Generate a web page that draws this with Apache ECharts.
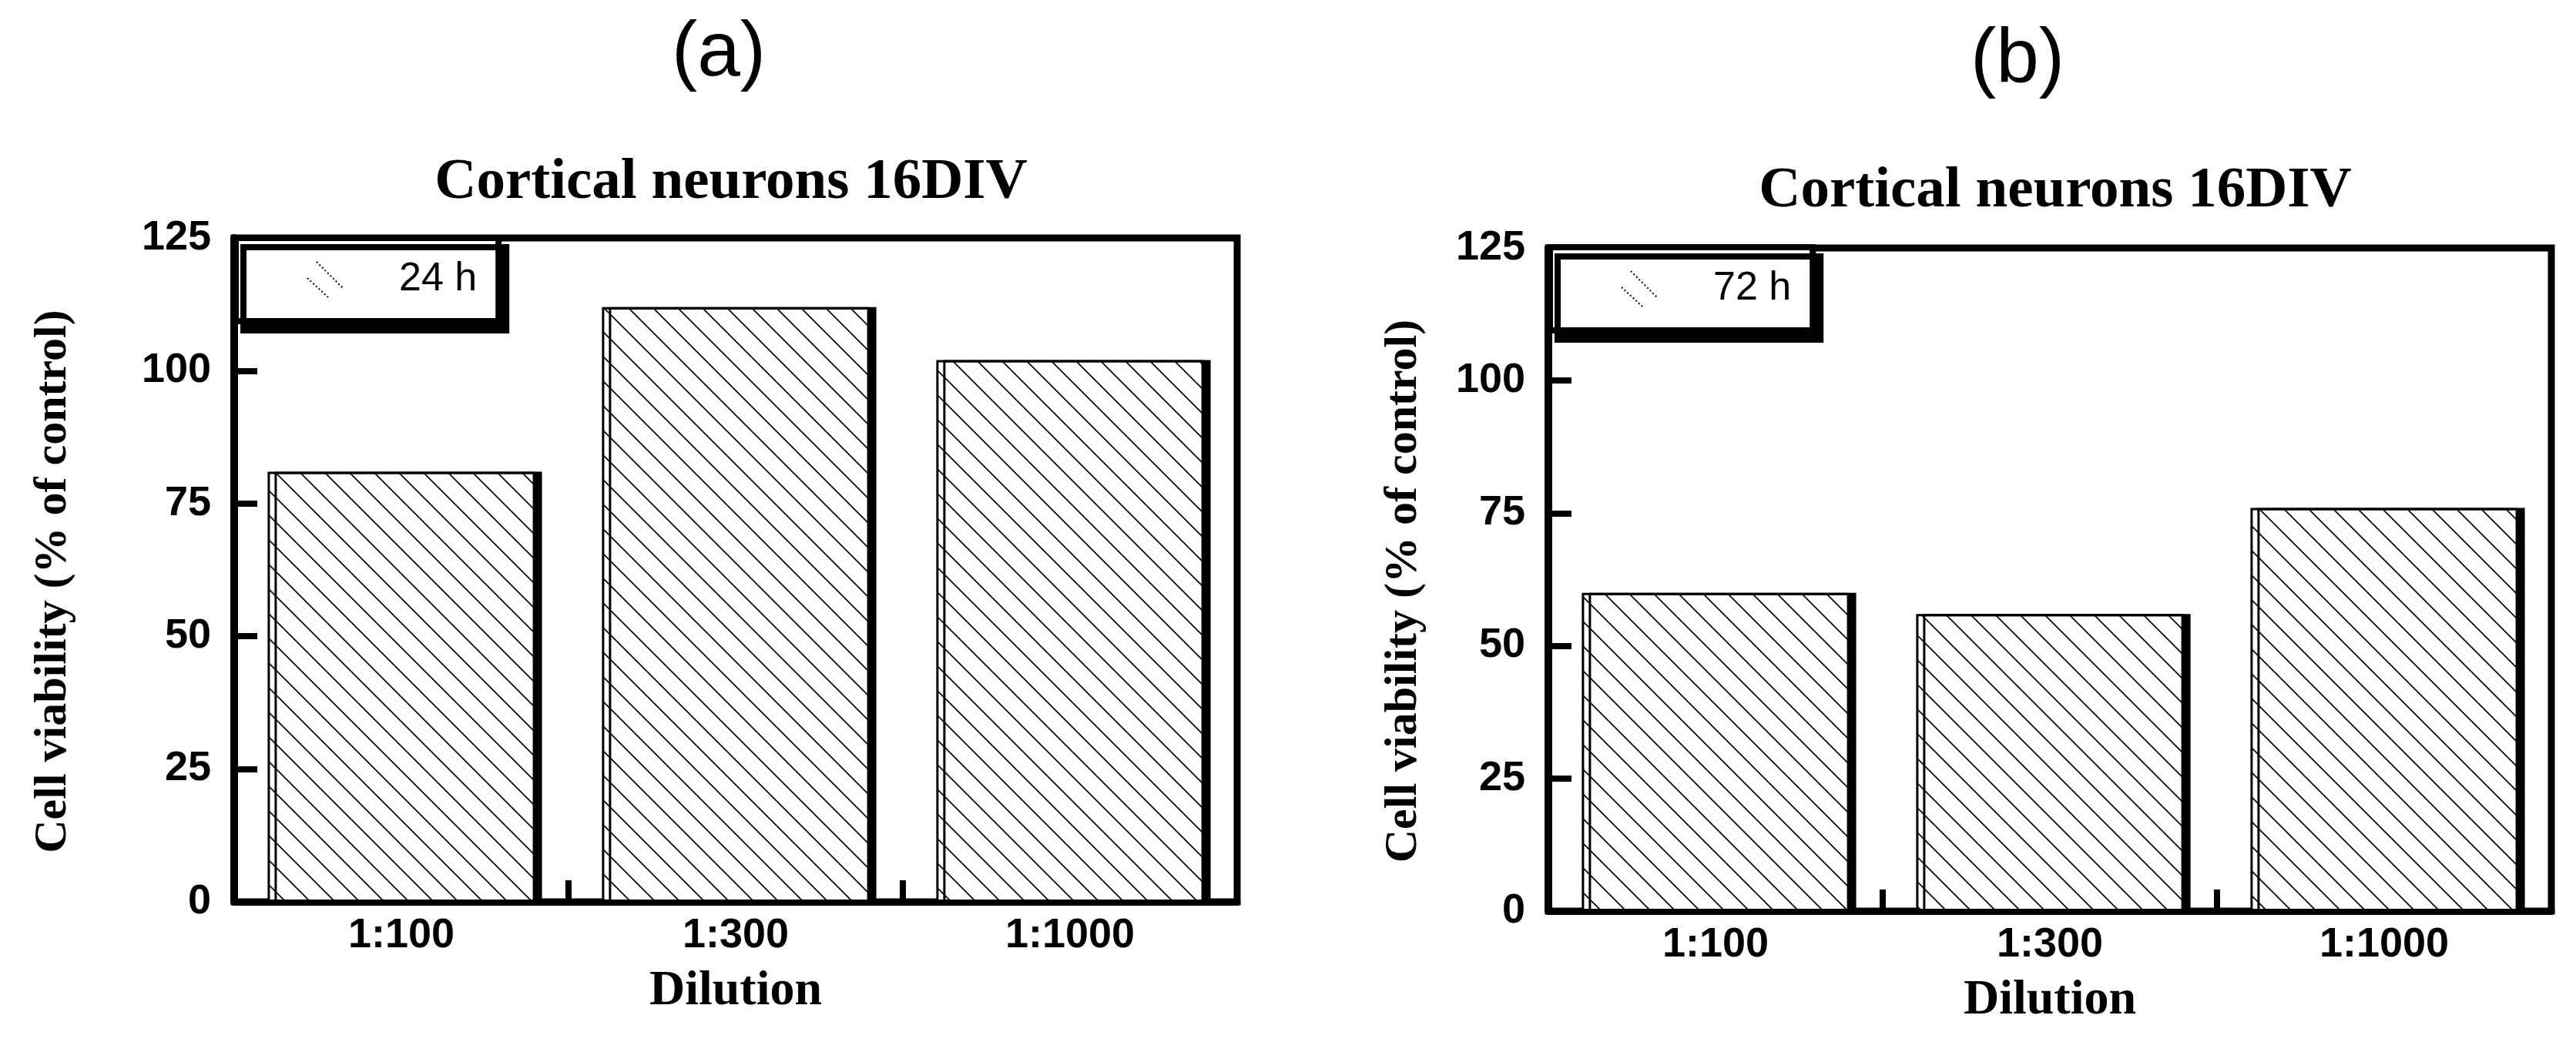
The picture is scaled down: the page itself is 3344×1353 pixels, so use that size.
<!DOCTYPE html>
<html>
<head>
<meta charset="utf-8">
<script src="https://cdn.jsdelivr.net/npm/echarts@6/dist/echarts.min.js"></script>
<style>
html,body{margin:0;padding:0;background:#fff;}
#c{width:3344px;height:1353px;}
</style>
</head>
<body>
<div id="c"></div>
<script>
// ---- data ----
var categories = ['1:100', '1:300', '1:1000'];
var values24h = [81, 112, 102];
var values72h = [60, 56, 76];
var yTicks = [0, 25, 50, 75, 100, 125];
var seriesNames = ['24 h', '72 h'];
var panelLabels = ['(a)', '(b)'];
var chartTitle = 'Cortical neurons 16DIV';
var yAxisTitle = 'Cell viability (% of control)';
var xAxisTitle = 'Dilution';

// ---- hatch pattern ----
function makeHatch() {
  var s = 32;
  var cv = document.createElement('canvas');
  cv.width = s; cv.height = s;
  var ctx = cv.getContext('2d');
  ctx.fillStyle = '#fff';
  ctx.fillRect(0, 0, s, s);
  ctx.strokeStyle = '#000';
  ctx.lineWidth = 1.6;
  ctx.beginPath();
  ctx.moveTo(-4, -4); ctx.lineTo(s + 4, s + 4);
  ctx.moveTo(s - 4, -4); ctx.lineTo(s + 4, 4);
  ctx.moveTo(-4, s - 4); ctx.lineTo(4, s + 4);
  ctx.stroke();
  return cv;
}
var hatch = makeHatch();

var serifBold = "'Liberation Serif', 'Times New Roman', serif";
var sansNarrow = "'Liberation Sans Narrow', 'Liberation Sans', Arial, sans-serif";
var sans = "'Liberation Sans', Arial, sans-serif";

var grids = [
  {left: 304, top: 309, width: 1302, height: 862},
  {left: 2010, top: 322, width: 1302, height: 861}
];
var yNameGaps = [205, 158];
var legendPos = [{left: 306, top: 309}, {left: 2012, top: 321}];

function gridOpt(g) {
  return {left: g.left, top: g.top, width: g.width, height: g.height,
    show: true, borderColor: '#000', borderWidth: 9, backgroundColor: 'transparent'};
}
function xAxisOpt(i) {
  return {
    type: 'category', gridIndex: i, data: categories,
    name: xAxisTitle, nameLocation: 'middle', nameGap: 84,
    nameTextStyle: {fontFamily: serifBold, fontWeight: 'bold', fontSize: 64, color: '#000'},
    axisLine: {lineStyle: {color: '#000', width: 9}},
    axisTick: {show: true, inside: true, length: 28, lineStyle: {color: '#000', width: 8}},
    axisLabel: {margin: 17, fontFamily: sansNarrow, fontWeight: 'bold', fontSize: 54, color: '#000'},
    splitLine: {show: false}
  };
}
function yAxisOpt(i) {
  return {
    type: 'value', gridIndex: i, min: yTicks[0], max: yTicks[yTicks.length - 1], interval: 25,
    name: yAxisTitle, nameLocation: 'middle', nameGap: yNameGaps[i], nameRotate: 90,
    nameTextStyle: {fontFamily: serifBold, fontWeight: 'bold', fontSize: 60, color: '#000', padding: [0, 30, 0, 0]},
    axisLine: {show: true, lineStyle: {color: '#000', width: 10}},
    axisTick: {show: true, inside: true, length: 30, lineStyle: {color: '#000', width: 8}},
    axisLabel: {margin: 30, fontFamily: sansNarrow, fontWeight: 'bold', fontSize: 54, color: '#000'},
    splitLine: {show: false}
  };
}
function seriesOpt(i, vals) {
  return {
    type: 'bar', name: seriesNames[i], xAxisIndex: i, yAxisIndex: i,
    data: vals, barWidth: '80%',
    itemStyle: {
      color: {image: hatch, repeat: 'repeat'},
      borderColor: '#000', borderWidth: 3,
      shadowColor: '#000', shadowBlur: 0, shadowOffsetX: 9, shadowOffsetY: 0
    },
    emphasis: {disabled: true},
    animation: false
  };
}
function legendOpt(i) {
  return {
    left: legendPos[i].left, top: legendPos[i].top,
    orient: 'horizontal',
    data: [{name: seriesNames[i], icon: 'path://M12,0 L47,35 M0,21 L27,46'}],
    itemWidth: 47, itemHeight: 46,
    padding: [28, 28, 28, 92],
    backgroundColor: '#fff',
    borderColor: '#000', borderWidth: 8, borderRadius: 0,
    shadowColor: '#000', shadowBlur: 0, shadowOffsetX: 10, shadowOffsetY: 12,
    itemStyle: {color: 'transparent', borderColor: '#000', borderWidth: 2, borderType: [2, 3],
      shadowColor: 'transparent', shadowBlur: 0, shadowOffsetX: 0, shadowOffsetY: 0},
    textStyle: {fontFamily: sans, fontSize: 52, color: '#000', padding: [0, 0, 0, 67]},
    selectedMode: false
  };
}

var chart = echarts.init(document.getElementById('c'), null, {renderer: 'canvas'});
chart.setOption({
  backgroundColor: '#fff',
  animation: false,
  grid: [gridOpt(grids[0]), gridOpt(grids[1])],
  xAxis: [xAxisOpt(0), xAxisOpt(1)],
  yAxis: [yAxisOpt(0), yAxisOpt(1)],
  legend: [legendOpt(0), legendOpt(1)],
  series: [seriesOpt(0, values24h), seriesOpt(1, values72h)],
  graphic: [
    {type: 'text', x: 933, y: 70, style: {text: panelLabels[0], fontFamily: sans, fontSize: 100, fill: '#000', align: 'center', verticalAlign: 'middle'}},
    {type: 'text', x: 2619, y: 79, style: {text: panelLabels[1], fontFamily: sans, fontSize: 100, fill: '#000', align: 'center', verticalAlign: 'middle'}},
    {type: 'text', x: 949, y: 238, style: {text: chartTitle, fontFamily: serifBold, fontWeight: 'bold', fontSize: 75, fill: '#000', align: 'center', verticalAlign: 'middle'}},
    {type: 'text', x: 2668, y: 249, style: {text: chartTitle, fontFamily: serifBold, fontWeight: 'bold', fontSize: 75, fill: '#000', align: 'center', verticalAlign: 'middle'}}
  ]
});
</script>
</body>
</html>
